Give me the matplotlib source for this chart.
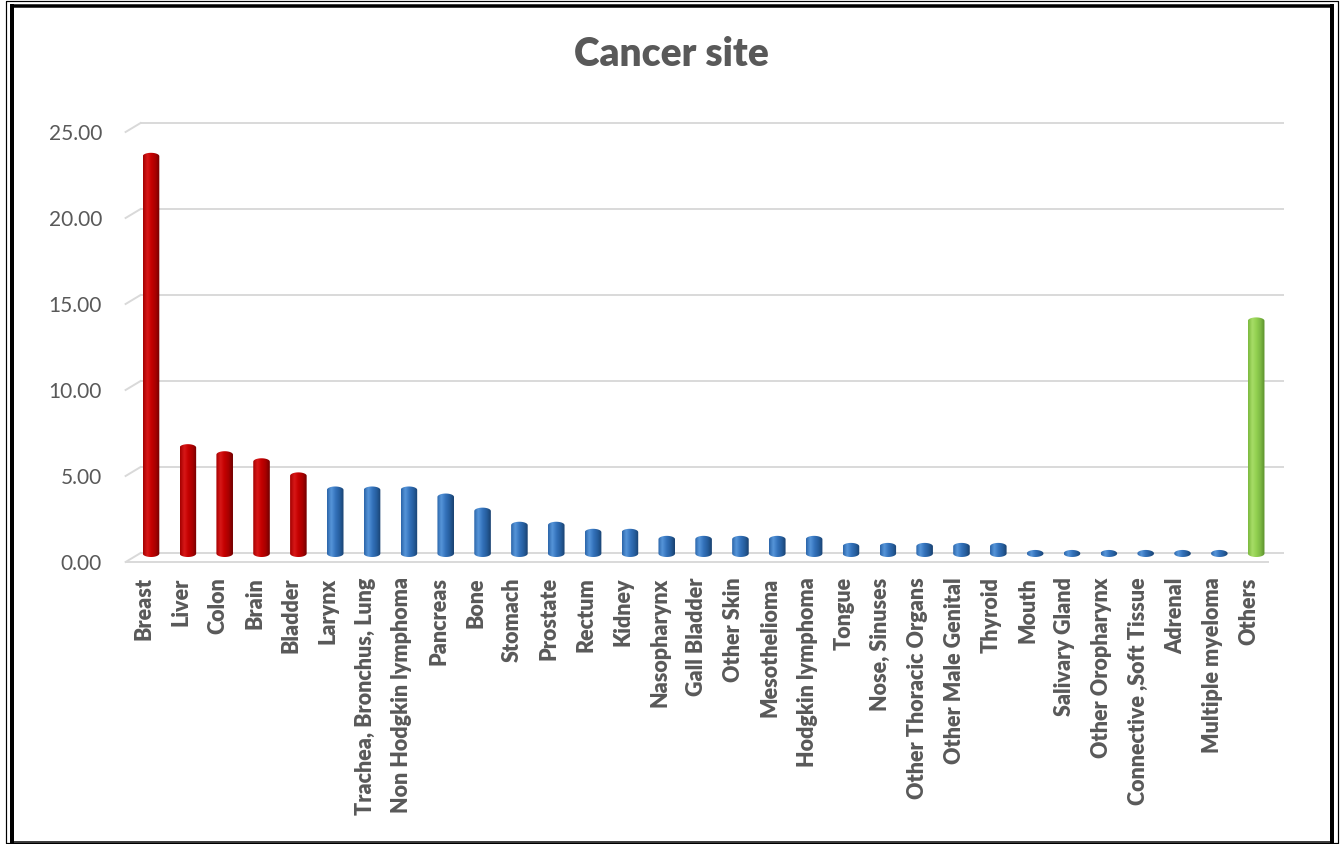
import numpy as np
import matplotlib
matplotlib.use("Agg")
import matplotlib.pyplot as plt
from matplotlib.colors import LinearSegmentedColormap
from matplotlib.patches import PathPatch
from matplotlib.path import Path
from matplotlib.lines import Line2D
from matplotlib.transforms import ScaledTranslation

plt.rcParams["font.family"] = ["Lato", "DejaVu Sans"]

sites = [
    "Breast", "Liver", "Colon", "Brain", "Bladder", "Larynx",
    "Trachea, Bronchus, Lung", "Non Hodgkin lymphoma", "Pancreas", "Bone",
    "Stomach", "Prostate", "Rectum", "Kidney", "Nasopharynx", "Gall Bladder",
    "Other Skin", "Mesothelioma", "Hodgkin lymphoma", "Tongue", "Nose, Sinuses",
    "Other Thoracic Organs", "Other Male Genital", "Thyroid", "Mouth",
    "Salivary Gland", "Other Oropharynx", "Connective ,Soft Tissue", "Adrenal",
    "Multiple myeloma", "Others",
]
values = [
    23.50, 6.56, 6.15, 5.74, 4.92, 4.10,
    4.10, 4.10, 3.69, 2.87,
    2.05, 2.05, 1.64, 1.64, 1.23, 1.23,
    1.23, 1.23, 1.23, 0.82, 0.82,
    0.82, 0.82, 0.82, 0.41,
    0.41, 0.41, 0.41, 0.41,
    0.41, 13.93,
]
groups = ["top"] * 5 + ["rest"] * 25 + ["other"]
yticks = [0, 5, 10, 15, 20, 25]

TEXT = "#595959"
GRID = "#D9D9D9"
shades = {
    "top": ["#A30000", "#D81818", "#C40000", "#A80000", "#700000"],
    "rest": ["#2A64A8", "#5796DA", "#3473BC", "#265E9E", "#1A416F"],
    "other": ["#7AB83C", "#A8DD68", "#92D050", "#7DB844", "#5B8F2B"],
}
cmaps = {k: LinearSegmentedColormap.from_list(k, c) for k, c in shades.items()}

W, H, DPI = 1343, 844, 100
fig = plt.figure(figsize=(W / DPI, H / DPI), dpi=DPI)
ax = fig.add_axes([125.6 / W, (H - 562) / H, 1142 / W, 430 / H])
ax.set_xlim(-0.5, len(sites) - 0.5)
ax.set_ylim(0, 25)
for s in ax.spines.values():
    s.set_visible(False)

# 3D-ish depth offsets (back wall and bar plane)
back = ScaledTranslation(15 / DPI, 9 / DPI, fig.dpi_scale_trans)
mid = ScaledTranslation(7 / DPI, 5 / DPI, fig.dpi_scale_trans)

x0, x1 = ax.get_xlim()
for y in yticks:
    ax.add_line(Line2D([x0, x1], [y, y], color=GRID, lw=1.4, clip_on=False,
                       transform=ax.transData + back, zorder=1))
    # little diagonal from the front edge to the back wall
    p0 = ax.transData.transform((x0, y))
    p1 = (ax.transData + back).transform((x0, y))
    ax.add_line(Line2D([p0[0], p1[0]], [p0[1], p1[1]], color=GRID, lw=1.4,
                       transform=None, clip_on=False, zorder=1))
ax.add_line(Line2D([x0, x1], [0, 0], color=GRID, lw=1.4, clip_on=False,
                   zorder=1))


def cylinder(x, v, cmap, w=0.45, hc=0.2):
    hc = min(hc, v / 2)
    t = np.linspace(0, np.pi, 40)
    bx = x - w / 2 * np.cos(t)
    by = hc - hc * np.sin(t)
    tx = x + w / 2 * np.cos(t)
    ty = v - hc + hc * np.sin(t)
    verts = np.column_stack([np.r_[bx, tx, bx[:1]], np.r_[by, ty, by[:1]]])
    tr = ax.transData + mid
    patch = PathPatch(Path(verts, closed=True), facecolor="none",
                      edgecolor="none", transform=tr)
    ax.add_patch(patch)
    grad = np.linspace(0, 1, 64)[None, :]
    im = ax.imshow(grad, extent=(x - w / 2, x + w / 2, 0, v), aspect="auto",
                   cmap=cmap, interpolation="bicubic", transform=tr, zorder=3)
    im.set_clip_path(patch)


for i, (v, g) in enumerate(zip(values, groups)):
    cylinder(i, v, cmaps[g])

ax.set_xlim(x0, x1)
ax.set_ylim(0, 25)

ax.set_yticks(yticks)
ax.set_yticklabels([f"{y:.2f}" for y in yticks], color=TEXT, fontsize=15)
ax.set_xticks(range(len(sites)))
ax.set_xticklabels(sites, rotation=90, color=TEXT, fontsize=15.5,
                   fontweight="heavy")
ax.tick_params(axis="y", length=0, pad=17)
ax.tick_params(axis="x", length=0, pad=11)

fig.text(0.5, (H - 54) / H, "Cancer site", ha="center", va="center",
         fontsize=28, fontweight="heavy", color=TEXT)


# black frame around the chart
def px_line(xs, ys, lw):
    fig.add_artist(Line2D([x / W for x in xs], [1 - y / H for y in ys],
                          color="black", lw=lw * 0.72,
                          transform=fig.transFigure, solid_capstyle="butt"))


px_line([6, 1338, 1338, 6, 6], [1, 1, 843, 843, 1], 1.2)
px_line([12, 12], [4, 844], 4)
px_line([10, 1334], [5.5, 5.5], 3.5)
px_line([1332, 1332], [4, 844], 4)
px_line([10, 1334], [842, 842], 1.5)

fig.savefig("out.png", dpi=DPI)
